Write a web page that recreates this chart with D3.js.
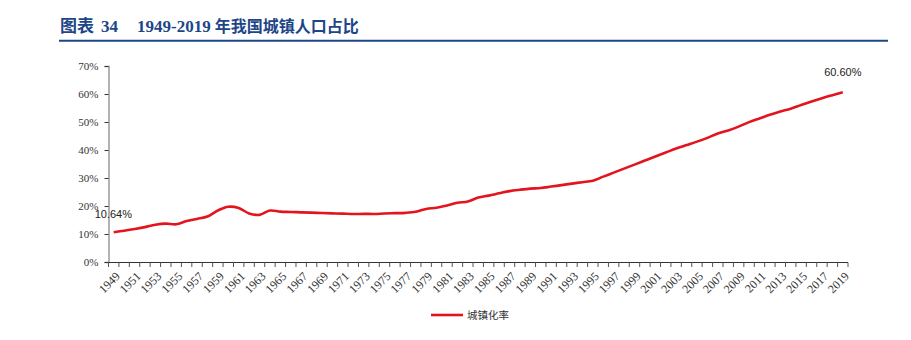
<!DOCTYPE html>
<html><head><meta charset="utf-8">
<script src="https://cdn.jsdelivr.net/npm/d3@7"></script>
<style>body{margin:0;background:#fff}</style>
</head><body>
<svg id="c" width="911" height="340"></svg>
<script>
const years = d3.range(1949, 2020);
const urbanRate = [10.64,11.18,11.78,12.46,13.31,13.69,13.48,14.62,15.39,16.25,18.41,19.75,19.29,17.33,16.84,18.37,17.98,17.86,17.74,17.62,17.50,17.38,17.26,17.13,17.20,17.16,17.34,17.44,17.55,17.92,18.96,19.39,20.16,21.13,21.62,23.01,23.71,24.52,25.32,25.81,26.21,26.41,26.94,27.46,27.99,28.51,29.04,30.48,31.91,33.35,34.78,36.22,37.66,39.09,40.53,41.76,42.99,44.34,45.89,46.99,48.34,49.95,51.27,52.57,53.73,54.77,56.10,57.35,58.52,59.58,60.60];
const yTicks = [0,10,20,30,40,50,60,70];
const seriesName = "城镇化率";

const svg = d3.select("#c");
const L = 108.5, R = 848, T = 66, B = 262;
const x = d3.scaleBand().domain(years).range([L, R]);
const y = d3.scaleLinear().domain([0, 70]).range([B, T]);

// title
const tt = svg.append("text").attr("x", 60).attr("y", 32).attr("fill", "#1d4689")
  .attr("font-weight", "bold").attr("font-size", 17);
tt.append("tspan").attr("font-family", "'Noto Sans CJK SC'").text("图表");
tt.append("tspan").attr("font-family", "'Liberation Serif'").attr("dx", 7).text("34");
const t2 = svg.append("text").attr("x", 137).attr("y", 32).attr("fill", "#1d4689")
  .attr("font-weight", "bold").attr("font-size", 17);
t2.append("tspan").attr("font-family", "'Liberation Serif'").text("1949-2019");
t2.append("tspan").attr("font-family", "'Noto Sans CJK SC'").attr("font-size", 16).attr("dx", 4).text("年我国城镇人口占比");
svg.append("line").attr("x1", 59).attr("x2", 888).attr("y1", 40.7).attr("y2", 40.7)
  .attr("stroke", "#1d4689").attr("stroke-width", 2);

// y axis
const yAxis = d3.axisLeft(y).tickValues(yTicks).tickFormat(d => d + "%").tickSize(4).tickPadding(6);
const gy = svg.append("g").attr("transform", `translate(${L},0)`).call(yAxis);
gy.select(".domain").attr("stroke", "#999").attr("stroke-width", 1.5);
gy.selectAll(".tick line").attr("stroke", "#333");
gy.selectAll("text").attr("font-family", "'Liberation Serif'").attr("font-size", 11).attr("fill", "#333");

// x axis
const gx = svg.append("g").attr("transform", `translate(0,${B})`);
gx.append("line").attr("x1", L).attr("x2", R).attr("y1", 0.5).attr("y2", 0.5).attr("stroke", "#333");
const edges = years.map(d => x(d)).concat([R]);
gx.selectAll("line.tk").data(edges).enter().append("line").attr("class", "tk")
  .attr("x1", d => d).attr("x2", d => d).attr("y1", 0.5).attr("y2", 5).attr("stroke", "#555");
gx.selectAll("text").data(years.filter((d, i) => i % 2 === 0)).enter().append("text")
  .attr("transform", d => `translate(${x(d) + x.bandwidth() / 2 + 1},${9}) rotate(-45)`)
  .attr("text-anchor", "end").attr("dy", "0.7em").attr("font-family", "'Liberation Serif'").attr("font-size", 12)
  .attr("fill", "#333").text(d => d);

// line
const line = d3.line().x((d, i) => x(years[i]) + x.bandwidth() / 2).y(d => y(d))
  .curve(d3.curveCatmullRom.alpha(0.5));
svg.append("path").datum(urbanRate).attr("d", line).attr("fill", "none")
  .attr("stroke", "#e3141e").attr("stroke-width", 2.6);

// labels
const last = urbanRate.length - 1;
svg.append("text").attr("x", x(years[0]) + x.bandwidth() / 2 - 19).attr("y", y(urbanRate[0]) - 14)
  .attr("font-family", "'Liberation Sans'").attr("font-size", 11).attr("fill", "#222").text(urbanRate[0].toFixed(2) + "%");
svg.append("text").attr("x", x(years[last]) + x.bandwidth() / 2).attr("y", y(urbanRate[last]) - 16)
  .attr("text-anchor", "middle").attr("font-family", "'Liberation Sans'").attr("font-size", 11).attr("fill", "#222")
  .text(urbanRate[last].toFixed(2) + "%");

// legend
svg.append("line").attr("x1", 431).attr("x2", 463).attr("y1", 315).attr("y2", 315)
  .attr("stroke", "#e3141e").attr("stroke-width", 2.6);
svg.append("text").attr("x", 467).attr("y", 319).attr("font-family", "'Noto Sans CJK SC'")
  .attr("font-size", 10.5).attr("fill", "#333").text(seriesName);
</script>
</body></html>
